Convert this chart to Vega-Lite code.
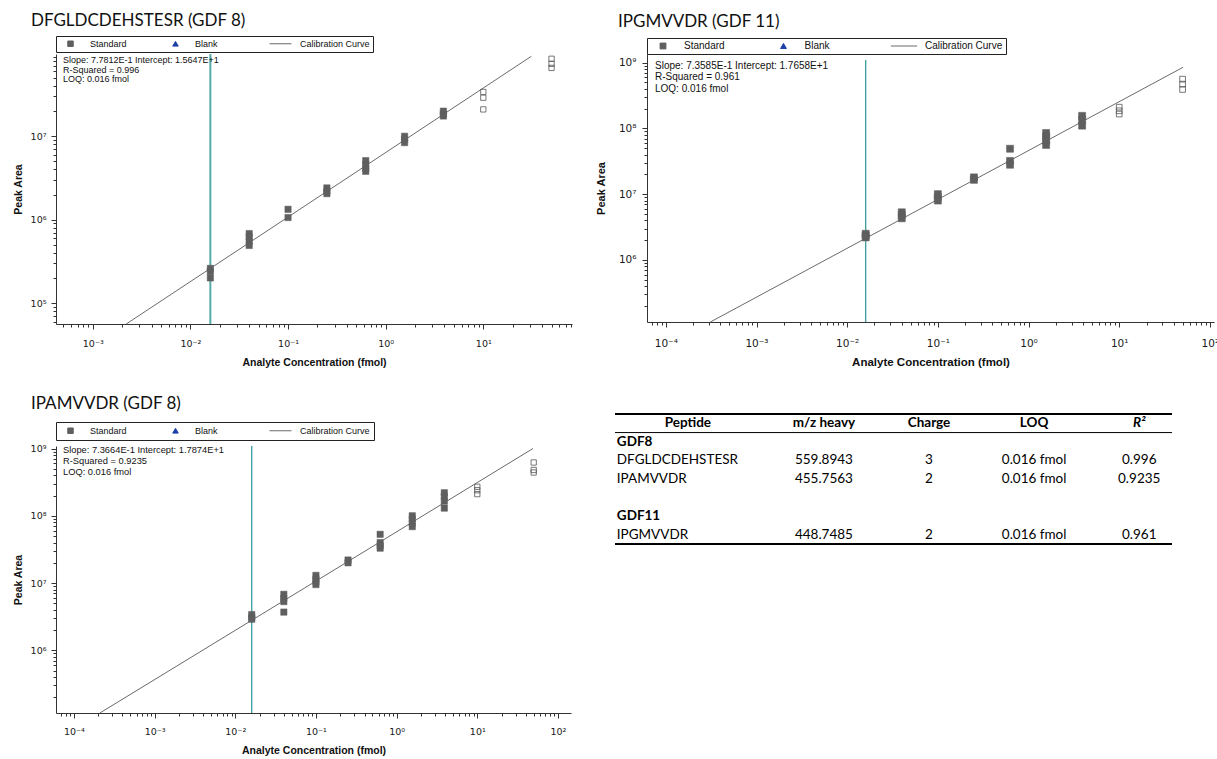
{
  "$schema": "https://vega.github.io/schema/vega-lite/v6.json",
  "padding": {"left": 13, "top": 11, "right": 0, "bottom": 0},
  "background": "white",
  "datasets": {
    "p1_pts": [
      {"conc": 0.016, "area": 260000, "series": "Standard", "excluded": false},
      {"conc": 0.016, "area": 240000, "series": "Standard", "excluded": false},
      {"conc": 0.016, "area": 200000, "series": "Standard", "excluded": false},
      {"conc": 0.04, "area": 680000, "series": "Standard", "excluded": false},
      {"conc": 0.04, "area": 620000, "series": "Standard", "excluded": false},
      {"conc": 0.04, "area": 550000, "series": "Standard", "excluded": false},
      {"conc": 0.04, "area": 490000, "series": "Standard", "excluded": false},
      {"conc": 0.1, "area": 1330000, "series": "Standard", "excluded": false},
      {"conc": 0.1, "area": 1060000, "series": "Standard", "excluded": false},
      {"conc": 0.25, "area": 2400000, "series": "Standard", "excluded": false},
      {"conc": 0.25, "area": 2200000, "series": "Standard", "excluded": false},
      {"conc": 0.25, "area": 2050000, "series": "Standard", "excluded": false},
      {"conc": 0.625, "area": 5100000, "series": "Standard", "excluded": false},
      {"conc": 0.625, "area": 4600000, "series": "Standard", "excluded": false},
      {"conc": 0.625, "area": 4100000, "series": "Standard", "excluded": false},
      {"conc": 0.625, "area": 3800000, "series": "Standard", "excluded": false},
      {"conc": 1.5625, "area": 10000000, "series": "Standard", "excluded": false},
      {"conc": 1.5625, "area": 9200000, "series": "Standard", "excluded": false},
      {"conc": 1.5625, "area": 8400000, "series": "Standard", "excluded": false},
      {"conc": 3.9, "area": 20000000, "series": "Standard", "excluded": false},
      {"conc": 3.9, "area": 18500000, "series": "Standard", "excluded": false},
      {"conc": 3.9, "area": 17500000, "series": "Standard", "excluded": false},
      {"conc": 10, "area": 34000000, "series": "Standard", "excluded": true},
      {"conc": 10, "area": 29000000, "series": "Standard", "excluded": true},
      {"conc": 10, "area": 21000000, "series": "Standard", "excluded": true},
      {"conc": 50, "area": 85000000, "series": "Standard", "excluded": true},
      {"conc": 50, "area": 74000000, "series": "Standard", "excluded": true},
      {"conc": 50, "area": 66000000, "series": "Standard", "excluded": true}
    ],
    "p1_curve": [
      {"conc": 0.0022, "area": 56000, "series": "Calibration Curve"},
      {"conc": 31, "area": 91000000, "series": "Calibration Curve"}
    ],
    "p2_pts": [
      {"conc": 0.016, "area": 2500000, "series": "Standard", "excluded": false},
      {"conc": 0.016, "area": 2350000, "series": "Standard", "excluded": false},
      {"conc": 0.016, "area": 2200000, "series": "Standard", "excluded": false},
      {"conc": 0.04, "area": 5300000, "series": "Standard", "excluded": false},
      {"conc": 0.04, "area": 4800000, "series": "Standard", "excluded": false},
      {"conc": 0.04, "area": 4300000, "series": "Standard", "excluded": false},
      {"conc": 0.1, "area": 10000000, "series": "Standard", "excluded": false},
      {"conc": 0.1, "area": 9000000, "series": "Standard", "excluded": false},
      {"conc": 0.1, "area": 8000000, "series": "Standard", "excluded": false},
      {"conc": 0.25, "area": 18000000, "series": "Standard", "excluded": false},
      {"conc": 0.25, "area": 16500000, "series": "Standard", "excluded": false},
      {"conc": 0.625, "area": 49000000, "series": "Standard", "excluded": false},
      {"conc": 0.625, "area": 32000000, "series": "Standard", "excluded": false},
      {"conc": 0.625, "area": 28000000, "series": "Standard", "excluded": false},
      {"conc": 1.5625, "area": 85000000, "series": "Standard", "excluded": false},
      {"conc": 1.5625, "area": 75000000, "series": "Standard", "excluded": false},
      {"conc": 1.5625, "area": 65000000, "series": "Standard", "excluded": false},
      {"conc": 1.5625, "area": 56000000, "series": "Standard", "excluded": false},
      {"conc": 3.9, "area": 155000000, "series": "Standard", "excluded": false},
      {"conc": 3.9, "area": 135000000, "series": "Standard", "excluded": false},
      {"conc": 3.9, "area": 110000000, "series": "Standard", "excluded": false},
      {"conc": 10, "area": 210000000, "series": "Standard", "excluded": true},
      {"conc": 10, "area": 185000000, "series": "Standard", "excluded": true},
      {"conc": 10, "area": 165000000, "series": "Standard", "excluded": true},
      {"conc": 50, "area": 560000000, "series": "Standard", "excluded": true},
      {"conc": 50, "area": 470000000, "series": "Standard", "excluded": true},
      {"conc": 50, "area": 390000000, "series": "Standard", "excluded": true}
    ],
    "p2_curve": [
      {"conc": 0.00031, "area": 114000, "series": "Calibration Curve"},
      {"conc": 50.7, "area": 850000000, "series": "Calibration Curve"}
    ],
    "p3_pts": [
      {"conc": 0.016, "area": 3400000, "series": "Standard", "excluded": false},
      {"conc": 0.016, "area": 3100000, "series": "Standard", "excluded": false},
      {"conc": 0.016, "area": 2900000, "series": "Standard", "excluded": false},
      {"conc": 0.04, "area": 6800000, "series": "Standard", "excluded": false},
      {"conc": 0.04, "area": 5900000, "series": "Standard", "excluded": false},
      {"conc": 0.04, "area": 5300000, "series": "Standard", "excluded": false},
      {"conc": 0.04, "area": 3700000, "series": "Standard", "excluded": false},
      {"conc": 0.1, "area": 13000000, "series": "Standard", "excluded": false},
      {"conc": 0.1, "area": 11500000, "series": "Standard", "excluded": false},
      {"conc": 0.1, "area": 10500000, "series": "Standard", "excluded": false},
      {"conc": 0.1, "area": 9500000, "series": "Standard", "excluded": false},
      {"conc": 0.25, "area": 22000000, "series": "Standard", "excluded": false},
      {"conc": 0.25, "area": 20000000, "series": "Standard", "excluded": false},
      {"conc": 0.625, "area": 53000000, "series": "Standard", "excluded": false},
      {"conc": 0.625, "area": 40000000, "series": "Standard", "excluded": false},
      {"conc": 0.625, "area": 36000000, "series": "Standard", "excluded": false},
      {"conc": 0.625, "area": 33000000, "series": "Standard", "excluded": false},
      {"conc": 1.5625, "area": 100000000, "series": "Standard", "excluded": false},
      {"conc": 1.5625, "area": 90000000, "series": "Standard", "excluded": false},
      {"conc": 1.5625, "area": 78000000, "series": "Standard", "excluded": false},
      {"conc": 1.5625, "area": 69000000, "series": "Standard", "excluded": false},
      {"conc": 3.9, "area": 220000000, "series": "Standard", "excluded": false},
      {"conc": 3.9, "area": 195000000, "series": "Standard", "excluded": false},
      {"conc": 3.9, "area": 165000000, "series": "Standard", "excluded": false},
      {"conc": 3.9, "area": 130000000, "series": "Standard", "excluded": false},
      {"conc": 10, "area": 270000000, "series": "Standard", "excluded": true},
      {"conc": 10, "area": 240000000, "series": "Standard", "excluded": true},
      {"conc": 10, "area": 210000000, "series": "Standard", "excluded": true},
      {"conc": 50, "area": 620000000, "series": "Standard", "excluded": true},
      {"conc": 50, "area": 480000000, "series": "Standard", "excluded": true},
      {"conc": 50, "area": 440000000, "series": "Standard", "excluded": true}
    ],
    "p3_curve": [
      {"conc": 0.00021, "area": 117000, "series": "Calibration Curve"},
      {"conc": 49, "area": 1000000000, "series": "Calibration Curve"}
    ],
    "loq": [{"conc": 0.016}],
    "table_header": [
      {"row": "header", "col": "peptide", "label": "Peptide"},
      {"row": "header", "col": "mz", "label": "m/z heavy"},
      {"row": "header", "col": "charge", "label": "Charge"},
      {"row": "header", "col": "loq", "label": "LOQ"},
      {"row": "header", "col": "r2", "label": "R²"}
    ],
    "table_groups": [
      {"row": "GDF8", "label": "GDF8"},
      {"row": "GDF11", "label": "GDF11"}
    ],
    "table_body": [
      {"row": "DFGLDCDEHSTESR", "peptide": "DFGLDCDEHSTESR", "mz": "559.8943", "charge": "3", "loq": "0.016 fmol", "r2": "0.996"},
      {"row": "IPAMVVDR", "peptide": "IPAMVVDR", "mz": "455.7563", "charge": "2", "loq": "0.016 fmol", "r2": "0.9235"},
      {"row": "IPGMVVDR", "peptide": "IPGMVVDR", "mz": "448.7485", "charge": "2", "loq": "0.016 fmol", "r2": "0.961"}
    ]
  },
  "spacing": 26,
  "resolve": {"scale": {"shape": "independent", "fill": "independent", "stroke": "independent"}, "legend": {"shape": "independent", "fill": "independent", "stroke": "independent"}},
  "vconcat": [
    {
      "spacing": 23,
      "resolve": {"scale": {"shape": "independent", "fill": "independent", "stroke": "independent"}, "legend": {"shape": "independent", "fill": "independent", "stroke": "independent"}},
      "hconcat": [
        {
          "width": 516,
          "height": 270,
          "title": {"text": "DFGLDCDEHSTESR (GDF 8)", "anchor": "start", "frame": "group", "dx": -25, "font": "Lato", "fontSize": 17, "fontWeight": "normal", "color": "#111", "offset": 6},
          "layer": [
            {
              "data": {"name": "loq"},
              "mark": {"type": "rule", "color": "#55abab", "strokeWidth": 2},
              "encoding": {"x": {"field": "conc", "type": "quantitative", "title": "Analyte Concentration (fmol)"}}
            },
            {
              "data": {"name": "p1_curve"},
              "mark": {"type": "line", "strokeWidth": 1},
              "encoding": {
                "x": {"field": "conc", "type": "quantitative", "title": "Analyte Concentration (fmol)"},
                "y": {"field": "area", "type": "quantitative", "title": "Peak Area"},
                "stroke": {"field": "series", "type": "nominal"}
              }
            },
            {
              "data": {"name": "p1_pts"},
              "transform": [{"filter": "!datum.excluded"}],
              "mark": {"type": "point", "filled": true, "size": 40, "strokeWidth": 0.5, "opacity": 1},
              "encoding": {
                "x": {"field": "conc", "type": "quantitative", "title": "Analyte Concentration (fmol)",
                  "scale": {"type": "log", "domain": [0.00042, 81], "nice": false},
                  "axis": {"values": [0.0005,0.0006,0.0007,0.0008,0.0009,0.001,0.002,0.003,0.004,0.005,0.006,0.007,0.008,0.009,0.01,0.02,0.03,0.04,0.05,0.06,0.07,0.08,0.09,0.1,0.2,0.3,0.4,0.5,0.6,0.7,0.8,0.9,1,2,3,4,5,6,7,8,9,10,20,30,40,50,60,70,80],
                    "labelExpr": "abs(log(datum.value)/LN10 - round(log(datum.value)/LN10)) < 0.001 ? '10' + (datum.value < 1 ? '⁻' : '') + substring('⁰¹²³⁴⁵⁶⁷⁸⁹', abs(round(log(datum.value)/LN10)), abs(round(log(datum.value)/LN10)) + 1) : ''",
                    "tickSize": {"condition": {"test": "abs(log(datum.value)/LN10 - round(log(datum.value)/LN10)) < 0.001", "value": 5}, "value": 3},
                    "labelFont": "DejaVu Sans", "labelFontSize": 9.5, "labelPadding": 9, "titleFontSize": 10.5, "titlePadding": 10}},
                "y": {"field": "area", "type": "quantitative", "title": "Peak Area",
                  "scale": {"type": "log", "domain": [56000, 97000000], "nice": false},
                  "axis": {"values": [60000,70000,80000,90000,100000,200000,300000,400000,500000,600000,700000,800000,900000,1000000,2000000,3000000,4000000,5000000,6000000,7000000,8000000,9000000,10000000,20000000,30000000,40000000,50000000,60000000,70000000,80000000,90000000],
                    "labelExpr": "abs(log(datum.value)/LN10 - round(log(datum.value)/LN10)) < 0.001 ? '10' + (datum.value < 1 ? '⁻' : '') + substring('⁰¹²³⁴⁵⁶⁷⁸⁹', abs(round(log(datum.value)/LN10)), abs(round(log(datum.value)/LN10)) + 1) : ''",
                    "tickSize": {"condition": {"test": "abs(log(datum.value)/LN10 - round(log(datum.value)/LN10)) < 0.001", "value": 5}, "value": 3},
                    "labelFont": "DejaVu Sans", "labelFontSize": 9.5, "labelPadding": 5, "titleFontSize": 10.5, "titlePadding": 7}},
                "shape": {"field": "series", "type": "nominal",
                  "scale": {"domain": ["Standard", "Blank", "Calibration Curve"], "range": ["square", "triangle-up", "M-4,0L4,0"]},
                  "legend": {"orient": "none", "legendX": 0, "legendY": -18, "direction": "horizontal", "columns": 3, "gridAlign": "all", "title": null, "strokeColor": "#222", "fillColor": "white", "padding": 3, "symbolOffset": 7, "symbolSize": 30, "symbolStrokeWidth": 1, "labelFontSize": 9, "labelFont": "Liberation Sans", "labelColor": "#111", "labelOffset": 15, "columnPadding": 2}},
                "fill": {"field": "series", "type": "nominal",
                  "scale": {"domain": ["Standard", "Blank", "Calibration Curve"], "range": ["#5f5f5f", "#1b3fa6", "transparent"]},
                  "legend": {"orient": "none", "legendX": 0, "legendY": -18, "direction": "horizontal", "columns": 3, "gridAlign": "all", "title": null, "strokeColor": "#222", "fillColor": "white", "padding": 3, "symbolOffset": 7, "symbolSize": 30, "symbolStrokeWidth": 1, "labelFontSize": 9, "labelFont": "Liberation Sans", "labelColor": "#111", "labelOffset": 15, "columnPadding": 2}},
                "stroke": {"field": "series", "type": "nominal",
                  "scale": {"domain": ["Standard", "Blank", "Calibration Curve"], "range": ["#5f5f5f", "#1b3fa6", "#6a6a6a"]},
                  "legend": {"orient": "none", "legendX": 0, "legendY": -18, "direction": "horizontal", "columns": 3, "gridAlign": "all", "title": null, "strokeColor": "#222", "fillColor": "white", "padding": 3, "symbolOffset": 7, "symbolSize": 30, "symbolStrokeWidth": 1, "labelFontSize": 9, "labelFont": "Liberation Sans", "labelColor": "#111", "labelOffset": 15, "columnPadding": 2}}
              }
            },
            {
              "data": {"name": "p1_pts"},
              "transform": [{"filter": "datum.excluded"}],
              "mark": {"type": "point", "shape": "square", "filled": false, "color": "#555", "size": 28, "strokeWidth": 0.8, "opacity": 1},
              "encoding": {
                "x": {"field": "conc", "type": "quantitative", "title": "Analyte Concentration (fmol)"},
                "y": {"field": "area", "type": "quantitative", "title": "Peak Area"}
              }
            },
            {
              "data": {"values": [{}]},
              "mark": {"type": "text", "align": "left", "baseline": "top", "dx": 7, "dy": 2, "fontSize": 9, "lineHeight": 9.7, "font": "Liberation Sans", "color": "#111"},
              "encoding": {
                "x": {"datum": 0.00042, "type": "quantitative"},
                "y": {"datum": 97000000, "type": "quantitative"},
                "text": {"value": ["Slope: 7.7812E-1 Intercept: 1.5647E+1", "R-Squared = 0.996", "LOQ: 0.016 fmol"]}
              }
            }
          ]
        },
        {
          "width": 567,
          "height": 268,
          "title": {"text": "IPGMVVDR (GDF 11)", "anchor": "start", "frame": "group", "dx": -29, "font": "Lato", "fontSize": 17, "fontWeight": "normal", "color": "#111", "offset": 7},
          "layer": [
            {
              "data": {"name": "loq"},
              "mark": {"type": "rule", "color": "#3a9e9e", "strokeWidth": 1.3},
              "encoding": {
                "x": {"field": "conc", "type": "quantitative", "title": "Analyte Concentration (fmol)"},
                "y": {"datum": 1090000000, "type": "quantitative"},
                "y2": {"datum": 114000}
              }
            },
            {
              "data": {"name": "p2_curve"},
              "mark": {"type": "line", "strokeWidth": 1},
              "encoding": {
                "x": {"field": "conc", "type": "quantitative", "title": "Analyte Concentration (fmol)"},
                "y": {"field": "area", "type": "quantitative", "title": "Peak Area"},
                "stroke": {"field": "series", "type": "nominal"}
              }
            },
            {
              "data": {"name": "p2_pts"},
              "transform": [{"filter": "!datum.excluded"}],
              "mark": {"type": "point", "filled": true, "size": 50, "strokeWidth": 0.5, "opacity": 1},
              "encoding": {
                "x": {"field": "conc", "type": "quantitative", "title": "Analyte Concentration (fmol)",
                  "scale": {"type": "log", "domain": [0.000062, 111], "nice": false},
                  "axis": {"values": [0.00007,0.00008,0.00009,0.0001,0.0002,0.0003,0.0004,0.0005,0.0006,0.0007,0.0008,0.0009,0.001,0.002,0.003,0.004,0.005,0.006,0.007,0.008,0.009,0.01,0.02,0.03,0.04,0.05,0.06,0.07,0.08,0.09,0.1,0.2,0.3,0.4,0.5,0.6,0.7,0.8,0.9,1,2,3,4,5,6,7,8,9,10,20,30,40,50,60,70,80,90,100],
                    "labelExpr": "abs(log(datum.value)/LN10 - round(log(datum.value)/LN10)) < 0.001 ? '10' + (datum.value < 1 ? '⁻' : '') + substring('⁰¹²³⁴⁵⁶⁷⁸⁹', abs(round(log(datum.value)/LN10)), abs(round(log(datum.value)/LN10)) + 1) : ''",
                    "tickSize": {"condition": {"test": "abs(log(datum.value)/LN10 - round(log(datum.value)/LN10)) < 0.001", "value": 5}, "value": 3},
                    "labelFont": "DejaVu Sans", "labelFontSize": 10.5, "labelPadding": 11, "titleFontSize": 11.5, "titlePadding": 8}},
                "y": {"field": "area", "type": "quantitative", "title": "Peak Area",
                  "scale": {"type": "log", "domain": [114000, 1350000000], "nice": false},
                  "axis": {"values": [200000,300000,400000,500000,600000,700000,800000,900000,1000000,2000000,3000000,4000000,5000000,6000000,7000000,8000000,9000000,10000000,20000000,30000000,40000000,50000000,60000000,70000000,80000000,90000000,100000000,200000000,300000000,400000000,500000000,600000000,700000000,800000000,900000000,1000000000],
                    "labelExpr": "abs(log(datum.value)/LN10 - round(log(datum.value)/LN10)) < 0.001 ? '10' + (datum.value < 1 ? '⁻' : '') + substring('⁰¹²³⁴⁵⁶⁷⁸⁹', abs(round(log(datum.value)/LN10)), abs(round(log(datum.value)/LN10)) + 1) : ''",
                    "tickSize": {"condition": {"test": "abs(log(datum.value)/LN10 - round(log(datum.value)/LN10)) < 0.001", "value": 5}, "value": 3},
                    "labelFont": "DejaVu Sans", "labelFontSize": 10.5, "labelPadding": 6, "titleFontSize": 11, "titlePadding": 12}},
                "shape": {"field": "series", "type": "nominal",
                  "scale": {"domain": ["Standard", "Blank", "Calibration Curve"], "range": ["square", "triangle-up", "M-4.5,0L4.5,0"]},
                  "legend": {"orient": "none", "legendX": 0, "legendY": -16, "direction": "horizontal", "columns": 3, "gridAlign": "all", "title": null, "strokeColor": "#222", "fillColor": "white", "padding": 3, "symbolOffset": 8, "symbolSize": 34, "symbolStrokeWidth": 1, "labelFontSize": 10, "labelFont": "Liberation Sans", "labelColor": "#111", "labelOffset": 16, "columnPadding": 5.5}},
                "fill": {"field": "series", "type": "nominal",
                  "scale": {"domain": ["Standard", "Blank", "Calibration Curve"], "range": ["#5f5f5f", "#1b3fa6", "transparent"]},
                  "legend": {"orient": "none", "legendX": 0, "legendY": -16, "direction": "horizontal", "columns": 3, "gridAlign": "all", "title": null, "strokeColor": "#222", "fillColor": "white", "padding": 3, "symbolOffset": 8, "symbolSize": 34, "symbolStrokeWidth": 1, "labelFontSize": 10, "labelFont": "Liberation Sans", "labelColor": "#111", "labelOffset": 16, "columnPadding": 5.5}},
                "stroke": {"field": "series", "type": "nominal",
                  "scale": {"domain": ["Standard", "Blank", "Calibration Curve"], "range": ["#5f5f5f", "#1b3fa6", "#6a6a6a"]},
                  "legend": {"orient": "none", "legendX": 0, "legendY": -16, "direction": "horizontal", "columns": 3, "gridAlign": "all", "title": null, "strokeColor": "#222", "fillColor": "white", "padding": 3, "symbolOffset": 8, "symbolSize": 34, "symbolStrokeWidth": 1, "labelFontSize": 10, "labelFont": "Liberation Sans", "labelColor": "#111", "labelOffset": 16, "columnPadding": 5.5}}
              }
            },
            {
              "data": {"name": "p2_pts"},
              "transform": [{"filter": "datum.excluded"}],
              "mark": {"type": "point", "shape": "square", "filled": false, "color": "#555", "size": 32, "strokeWidth": 0.8, "opacity": 1},
              "encoding": {
                "x": {"field": "conc", "type": "quantitative", "title": "Analyte Concentration (fmol)"},
                "y": {"field": "area", "type": "quantitative", "title": "Peak Area"}
              }
            },
            {
              "data": {"values": [{}]},
              "mark": {"type": "text", "align": "left", "baseline": "top", "dx": 8, "dy": 1, "fontSize": 10, "lineHeight": 11.2, "font": "Liberation Sans", "color": "#111"},
              "encoding": {
                "x": {"datum": 0.000062, "type": "quantitative"},
                "y": {"datum": 1090000000, "type": "quantitative"},
                "text": {"value": ["Slope: 7.3585E-1 Intercept: 1.7658E+1", "R-Squared = 0.961", "LOQ: 0.016 fmol"]}
              }
            }
          ]
        }
      ]
    },
    {
      "spacing": 43,
      "resolve": {"scale": {"shape": "independent", "fill": "independent", "stroke": "independent"}, "legend": {"shape": "independent", "fill": "independent", "stroke": "independent"}},
      "hconcat": [
        {
          "width": 515,
          "height": 267,
          "title": {"text": "IPAMVVDR (GDF 8)", "anchor": "start", "frame": "group", "dx": -25, "font": "Lato", "fontSize": 17, "fontWeight": "normal", "color": "#111", "offset": 9},
          "layer": [
            {
              "data": {"name": "loq"},
              "mark": {"type": "rule", "color": "#3a9e9e", "strokeWidth": 1.3},
              "encoding": {"x": {"field": "conc", "type": "quantitative", "title": "Analyte Concentration (fmol)"}}
            },
            {
              "data": {"name": "p3_curve"},
              "mark": {"type": "line", "strokeWidth": 1},
              "encoding": {
                "x": {"field": "conc", "type": "quantitative", "title": "Analyte Concentration (fmol)"},
                "y": {"field": "area", "type": "quantitative", "title": "Peak Area"},
                "stroke": {"field": "series", "type": "nominal"}
              }
            },
            {
              "data": {"name": "p3_pts"},
              "transform": [{"filter": "!datum.excluded"}],
              "mark": {"type": "point", "filled": true, "size": 40, "strokeWidth": 0.5, "opacity": 1},
              "encoding": {
                "x": {"field": "conc", "type": "quantitative", "title": "Analyte Concentration (fmol)",
                  "scale": {"type": "log", "domain": [0.00006, 145], "nice": false},
                  "axis": {"values": [0.00007,0.00008,0.00009,0.0001,0.0002,0.0003,0.0004,0.0005,0.0006,0.0007,0.0008,0.0009,0.001,0.002,0.003,0.004,0.005,0.006,0.007,0.008,0.009,0.01,0.02,0.03,0.04,0.05,0.06,0.07,0.08,0.09,0.1,0.2,0.3,0.4,0.5,0.6,0.7,0.8,0.9,1,2,3,4,5,6,7,8,9,10,20,30,40,50,60,70,80,90,100],
                    "labelExpr": "abs(log(datum.value)/LN10 - round(log(datum.value)/LN10)) < 0.001 ? '10' + (datum.value < 1 ? '⁻' : '') + substring('⁰¹²³⁴⁵⁶⁷⁸⁹', abs(round(log(datum.value)/LN10)), abs(round(log(datum.value)/LN10)) + 1) : ''",
                    "tickSize": {"condition": {"test": "abs(log(datum.value)/LN10 - round(log(datum.value)/LN10)) < 0.001", "value": 5}, "value": 3},
                    "labelFont": "DejaVu Sans", "labelFontSize": 9.5, "labelPadding": 8, "titleFontSize": 10.5, "titlePadding": 10}},
                "y": {"field": "area", "type": "quantitative", "title": "Peak Area",
                  "scale": {"type": "log", "domain": [117000, 1090000000], "nice": false},
                  "axis": {"values": [200000,300000,400000,500000,600000,700000,800000,900000,1000000,2000000,3000000,4000000,5000000,6000000,7000000,8000000,9000000,10000000,20000000,30000000,40000000,50000000,60000000,70000000,80000000,90000000,100000000,200000000,300000000,400000000,500000000,600000000,700000000,800000000,900000000,1000000000],
                    "labelExpr": "abs(log(datum.value)/LN10 - round(log(datum.value)/LN10)) < 0.001 ? '10' + (datum.value < 1 ? '⁻' : '') + substring('⁰¹²³⁴⁵⁶⁷⁸⁹', abs(round(log(datum.value)/LN10)), abs(round(log(datum.value)/LN10)) + 1) : ''",
                    "tickSize": {"condition": {"test": "abs(log(datum.value)/LN10 - round(log(datum.value)/LN10)) < 0.001", "value": 5}, "value": 3},
                    "labelFont": "DejaVu Sans", "labelFontSize": 9.5, "labelPadding": 5, "titleFontSize": 10.5, "titlePadding": 7}},
                "shape": {"field": "series", "type": "nominal",
                  "scale": {"domain": ["Standard", "Blank", "Calibration Curve"], "range": ["square", "triangle-up", "M-4,0L4,0"]},
                  "legend": {"orient": "none", "legendX": 0, "legendY": -24, "direction": "horizontal", "columns": 3, "gridAlign": "all", "title": null, "strokeColor": "#222", "fillColor": "white", "padding": 4, "symbolOffset": 6, "symbolSize": 30, "symbolStrokeWidth": 1, "labelFontSize": 9, "labelFont": "Liberation Sans", "labelColor": "#111", "labelOffset": 15, "columnPadding": 2}},
                "fill": {"field": "series", "type": "nominal",
                  "scale": {"domain": ["Standard", "Blank", "Calibration Curve"], "range": ["#5f5f5f", "#1b3fa6", "transparent"]},
                  "legend": {"orient": "none", "legendX": 0, "legendY": -24, "direction": "horizontal", "columns": 3, "gridAlign": "all", "title": null, "strokeColor": "#222", "fillColor": "white", "padding": 4, "symbolOffset": 6, "symbolSize": 30, "symbolStrokeWidth": 1, "labelFontSize": 9, "labelFont": "Liberation Sans", "labelColor": "#111", "labelOffset": 15, "columnPadding": 2}},
                "stroke": {"field": "series", "type": "nominal",
                  "scale": {"domain": ["Standard", "Blank", "Calibration Curve"], "range": ["#5f5f5f", "#1b3fa6", "#6a6a6a"]},
                  "legend": {"orient": "none", "legendX": 0, "legendY": -24, "direction": "horizontal", "columns": 3, "gridAlign": "all", "title": null, "strokeColor": "#222", "fillColor": "white", "padding": 4, "symbolOffset": 6, "symbolSize": 30, "symbolStrokeWidth": 1, "labelFontSize": 9, "labelFont": "Liberation Sans", "labelColor": "#111", "labelOffset": 15, "columnPadding": 2}}
              }
            },
            {
              "data": {"name": "p3_pts"},
              "transform": [{"filter": "datum.excluded"}],
              "mark": {"type": "point", "shape": "square", "filled": false, "color": "#555", "size": 28, "strokeWidth": 0.8, "opacity": 1},
              "encoding": {
                "x": {"field": "conc", "type": "quantitative", "title": "Analyte Concentration (fmol)"},
                "y": {"field": "area", "type": "quantitative", "title": "Peak Area"}
              }
            },
            {
              "data": {"values": [{}]},
              "mark": {"type": "text", "align": "left", "baseline": "top", "dx": 7, "dy": 0, "fontSize": 9.3, "lineHeight": 11, "font": "Liberation Sans", "color": "#111"},
              "encoding": {
                "x": {"datum": 0.00006, "type": "quantitative"},
                "y": {"datum": 1090000000, "type": "quantitative"},
                "text": {"value": ["Slope: 7.3664E-1 Intercept: 1.7874E+1", "R-Squared = 0.9235", "LOQ: 0.016 fmol"]}
              }
            }
          ]
        },
        {
          "width": 557,
          "height": 130,
          "encoding": {
            "y": {"field": "row", "type": "nominal", "axis": null,
              "scale": {"type": "band", "domain": ["header", "GDF8", "DFGLDCDEHSTESR", "IPAMVVDR", "_gap", "GDF11", "IPGMVVDR"], "paddingInner": 0, "paddingOuter": 0}}
          },
          "layer": [
            {
              "data": {"values": [{"row": "header"}]},
              "mark": {"type": "rule", "color": "#000", "strokeWidth": 2, "yOffset": -32},
              "encoding": {"y": {"field": "row", "type": "nominal", "bandPosition": 0, "axis": null}}
            },
            {
              "data": {"values": [{"row": "header"}]},
              "mark": {"type": "rule", "color": "#000", "strokeWidth": 1, "yOffset": -32},
              "encoding": {"y": {"field": "row", "type": "nominal", "bandPosition": 1, "axis": null}}
            },
            {
              "data": {"values": [{"row": "IPGMVVDR"}]},
              "mark": {"type": "rule", "color": "#000", "strokeWidth": 2, "yOffset": -32},
              "encoding": {"y": {"field": "row", "type": "nominal", "bandPosition": 1, "axis": null}}
            },
            {
              "data": {"name": "table_header"},
              "transform": [{"filter": "datum.col != 'r2' && datum.col != 'peptide'"}],
              "mark": {"type": "text", "font": "Lato", "fontSize": 13.5, "fontWeight": "bold", "color": "#000", "yOffset": -32},
              "encoding": {
                "x": {"field": "col", "type": "nominal", "axis": null,
                  "scale": {"type": "point", "domain": ["peptide", "mz", "charge", "loq", "r2"], "padding": 0.65, "align": 0.76}},
                "text": {"field": "label"}
              }
            },
            {
              "data": {"name": "table_header"},
              "transform": [{"filter": "datum.col == 'peptide'"}],
              "mark": {"type": "text", "font": "Lato", "fontSize": 13.5, "fontWeight": "bold", "color": "#000", "dx": -31, "yOffset": -32},
              "encoding": {
                "x": {"field": "col", "type": "nominal", "axis": null},
                "text": {"field": "label"}
              }
            },
            {
              "data": {"name": "table_header"},
              "transform": [{"filter": "datum.col == 'r2'"}],
              "mark": {"type": "text", "font": "Lato", "fontSize": 13.5, "fontWeight": "bold", "fontStyle": "italic", "color": "#000", "yOffset": -32},
              "encoding": {
                "x": {"field": "col", "type": "nominal", "axis": null},
                "text": {"field": "label"}
              }
            },
            {
              "data": {"name": "table_groups"},
              "mark": {"type": "text", "font": "Lato", "fontSize": 13.5, "fontWeight": "bold", "color": "#000", "align": "left", "dx": -102, "yOffset": -32},
              "encoding": {
                "x": {"datum": "peptide", "type": "nominal", "axis": null},
                "text": {"field": "label"}
              }
            },
            {
              "data": {"name": "table_body"},
              "mark": {"type": "text", "font": "Lato", "fontSize": 13.5, "color": "#000", "align": "left", "dx": -102, "yOffset": -32},
              "encoding": {
                "x": {"datum": "peptide", "type": "nominal", "axis": null},
                "text": {"field": "peptide"}
              }
            },
            {
              "data": {"name": "table_body"},
              "transform": [{"fold": ["mz", "charge", "loq", "r2"], "as": ["col", "val"]}],
              "mark": {"type": "text", "font": "Lato", "fontSize": 13.5, "color": "#000", "yOffset": -32},
              "encoding": {
                "x": {"field": "col", "type": "nominal", "axis": null},
                "text": {"field": "val"}
              }
            }
          ]
        }
      ]
    }
  ],
  "config": {
    "view": {"stroke": null},
    "font": "Liberation Sans",
    "axis": {"grid": false, "domainColor": "#333", "tickColor": "#333", "labelColor": "#1a1a1a", "titleColor": "#111", "labelFont": "Liberation Sans", "titleFont": "Liberation Sans", "titleFontWeight": "bold", "labelOverlap": false, "labelFlush": false, "tickWidth": 1, "domainWidth": 1}
  }
}
